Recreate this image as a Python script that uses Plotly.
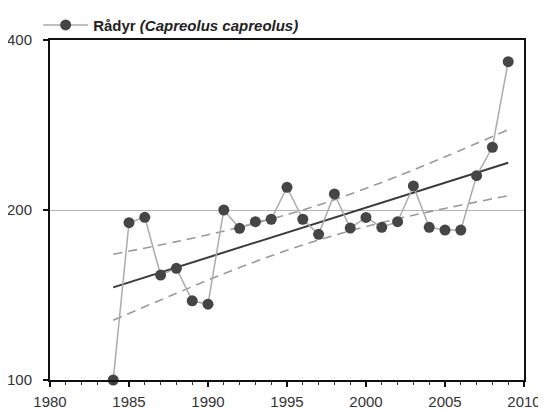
import numpy as np
import plotly.graph_objects as go

# Yearly index values
years = list(range(1984, 2010))
values = [100.0, 189.9, 194.1, 153.4, 157.7, 138.1, 136.2, 200.0, 185.6, 190.7,
          192.6, 219.4, 192.6, 181.1, 213.5, 185.8, 194.0, 186.4, 190.7, 220.6,
          186.4, 184.3, 184.3, 230.0, 258.3, 366.1]

# Trend line and confidence band
trend_years = [1984, 2009]
trend_values = [145.9, 242.5]
ci_years = [1984, 1988, 1992, 1996.5, 2001, 2005, 2009]
ci_upper = [167.0, 175.8, 186.4, 202.0, 223.8, 248.4, 277.5]
ci_lower = [127.6, 142.4, 158.2, 175.2, 190.0, 201.3, 212.0]

y_ticks = [100, 200, 400]
x_ticks = [1980, 1985, 1990, 1995, 2000, 2005, 2010]

fig = go.Figure()

# Confidence band (dashed)
for ci in (ci_upper, ci_lower):
    fig.add_trace(go.Scatter(
        x=ci_years, y=ci, mode='lines', line_shape='spline',
        line=dict(color='#9a9a9a', width=1.6, dash='9px,6px'),
        showlegend=False, hoverinfo='skip'
    ))

# Trend line
fig.add_trace(go.Scatter(
    x=trend_years, y=trend_values, mode='lines',
    line=dict(color='#3a3a3a', width=2),
    showlegend=False, hoverinfo='skip'
))

# Observed series
fig.add_trace(go.Scatter(
    x=years, y=values, mode='lines+markers',
    line=dict(color='#ababab', width=1.5),
    marker=dict(color='#454545', size=11, line=dict(width=0)),
    name='<b>Rådyr <i>(Capreolus capreolus)</i></b>',
    cliponaxis=False
))

# page body adds an 8px offset, so the figure is sized to fit inside it
fig.update_layout(
    width=538, height=402,
    margin=dict(l=42, r=22, t=32, b=30, autoexpand=False),
    paper_bgcolor='white', plot_bgcolor='white',
    font=dict(family='Liberation Sans, Arial, sans-serif', size=15, color='#333333'),
    showlegend=True,
    legend=dict(
        x=-0.025, y=0.995, xanchor='left', yanchor='bottom',
        orientation='h', bgcolor='rgba(0,0,0,0)',
        font=dict(size=15, color='#222222'),
        itemwidth=45
    ),
    xaxis=dict(
        range=[1980, 2010], tickvals=x_ticks,
        showline=True, linecolor='#111111', linewidth=2, mirror=True,
        ticks='outside', ticklen=5, tickwidth=2, tickcolor='#111111',
        ticklabelstandoff=2,
        minor=dict(dtick=1, ticks='outside', ticklen=3, tickwidth=1, tickcolor='#333333'),
        showgrid=False, zeroline=False
    ),
    yaxis=dict(
        type='log', range=[np.log10(100), np.log10(400)],
        tickvals=y_ticks, ticktext=[str(v) for v in y_ticks],
        showline=True, linecolor='#111111', linewidth=2, mirror=True,
        ticks='outside', ticklen=5, tickwidth=1.5, tickcolor='#111111',
        ticklabelstandoff=8,
        showgrid=True, gridcolor='#b5b5b5', gridwidth=1, zeroline=False
    )
)

fig.write_html("out.html")
